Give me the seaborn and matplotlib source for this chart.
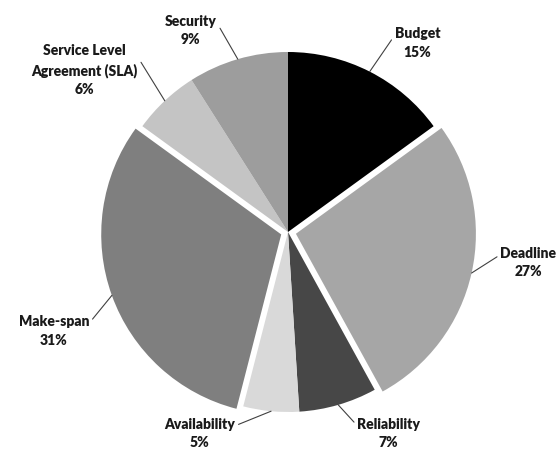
import numpy as np
import matplotlib
matplotlib.use('Agg')
import matplotlib.pyplot as plt
import seaborn as sns

categories = ['Budget', 'Deadline', 'Reliability', 'Availability', 'Make-span',
              'Service Level\nAgreement (SLA)', 'Security']
shares = [15, 27, 7, 5, 31, 6, 9]
explode = [0, 0.045, 0, 0, 0.04, 0, 0]
colors = ['#000000', '#a6a6a6', '#474747', '#d9d9d9', '#7f7f7f', '#c4c4c4', '#9d9d9d']

# text anchors for each label (data coords, pie radius = 1)
label_pos = [(0.72, 1.05), (1.335, -0.17), (0.56, -1.12), (-0.49, -1.12),
             (-1.30, -0.55), (-1.13, 0.90), (-0.54, 1.12)]

sns.set_theme(style='white')
plt.rcParams['font.family'] = ['Lato', 'DejaVu Sans']

fig = plt.figure(figsize=(5.6, 4.5), dpi=100)
ax = fig.add_axes([0, 0, 1, 1])

wedges, _ = ax.pie(shares, colors=colors, explode=explode, startangle=90,
                   counterclock=False, radius=1,
                   wedgeprops=dict(linewidth=0))

for w, name, val, ex, (tx, ty) in zip(wedges, categories, shares, explode, label_pos):
    ang = np.deg2rad((w.theta1 + w.theta2) / 2)
    cx, cy = w.center
    px, py = cx + np.cos(ang), cy + np.sin(ang)
    ax.annotate(f'{name}\n{val}%', xy=(px, py), xytext=(tx, ty),
                ha='center', va='center', fontsize=10, fontweight='heavy',
                color='#1a1a1a', linespacing=1.5,
                arrowprops=dict(arrowstyle='-', color='#404040', lw=0.8,
                                shrinkA=0, shrinkB=0,
                                relpos=(1.0, 0.75) if tx < 0 else (0.0, 0.75)))

ax.set_xlim(-288 / 180, 272 / 180)
ax.set_ylim(-218 / 180, 232 / 180)
ax.set_aspect('equal')
ax.axis('off')

fig.savefig('out.png', dpi=100)
